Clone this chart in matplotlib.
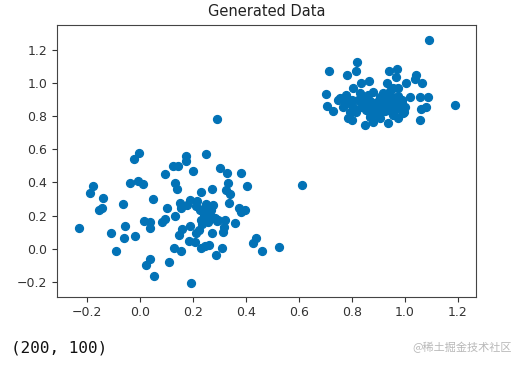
import matplotlib
matplotlib.use("Agg")
import matplotlib.pyplot as plt
import numpy as np

# lower-left cluster
x1 = [-0.231, -0.188, -0.177, -0.140, -0.155, -0.143, -0.111, -0.090, -0.064, -0.055,
      -0.061, -0.037, -0.021, -0.003, -0.008, 0.011, -0.018, 0.014, 0.039, 0.039,
      0.049, 0.024, 0.039, 0.053, 0.096, 0.102, 0.096, 0.083, 0.111, 0.125,
      0.145, 0.134, 0.139, 0.134, 0.127, 0.155, 0.151, 0.156, 0.149, 0.159,
      0.172, 0.173, 0.200, 0.179, 0.190, 0.188, 0.184, 0.206, 0.192, 0.216,
      0.230, 0.232, 0.248, 0.226, 0.232, 0.223, 0.213, 0.246, 0.260, 0.272,
      0.247, 0.264, 0.276, 0.266, 0.282, 0.295, 0.272, 0.286, 0.310, 0.290,
      0.304, 0.328, 0.334, 0.324, 0.339, 0.337, 0.323, 0.318, 0.314, 0.358,
      0.380, 0.375, 0.380, 0.397, 0.404, 0.427, 0.438, 0.462, 0.526, 0.612,
      0.255, 0.240, 0.262, 0.250, 0.270, 0.236, 0.258, 0.210, 0.290, 0.245]
y1 = [0.127, 0.338, 0.379, 0.304, 0.234, 0.244, 0.093, -0.014, 0.272, 0.135,
      0.066, 0.399, 0.542, 0.580, 0.411, 0.393, 0.075, 0.167, 0.163, 0.127,
      0.302, -0.099, -0.062, -0.165, 0.453, 0.248, 0.181, 0.163, -0.083, 0.499,
      0.501, 0.397, 0.358, 0.197, 0.002, -0.012, 0.274, 0.244, 0.083, 0.117,
      0.562, 0.528, 0.467, 0.264, 0.294, 0.137, 0.048, 0.038, -0.205, 0.290,
      0.344, 0.002, 0.572, 0.234, 0.173, 0.113, 0.093, 0.016, 0.020, 0.358,
      0.254, 0.244, 0.264, 0.203, 0.183, 0.173, 0.097, -0.040, 0.002, 0.783,
      0.485, 0.455, 0.395, 0.354, 0.330, 0.274, 0.173, 0.133, 0.099, 0.157,
      0.455, 0.244, 0.222, 0.234, 0.379, 0.032, 0.066, -0.014, 0.008, 0.385,
      0.225, 0.210, 0.190, 0.270, 0.235, 0.150, 0.160, 0.260, 0.165, 0.195]

# upper-right cluster
x2 = [1.091, 1.189, 0.716, 0.820, 0.815, 0.782, 0.702, 0.707, 0.730, 0.755,
      0.777, 0.773, 0.768, 0.785, 0.800, 0.806, 0.834, 0.831, 0.800, 0.806,
      0.818, 0.850, 0.854, 0.851, 0.866, 0.879, 0.869, 0.879, 0.894, 0.907,
      0.919, 0.907, 0.936, 0.932, 0.941, 0.970, 0.967, 0.957, 0.951, 0.944,
      0.963, 0.976, 0.989, 0.982, 1.007, 1.020, 1.001, 1.042, 1.039, 1.067,
      1.060, 1.089, 1.063, 1.082, 1.060, 0.999, 0.888, 0.749, 0.793, 0.907,
      0.976, 0.862, 0.932, 0.837, 0.875, 0.982, 0.994, 0.894, 0.788, 0.957,
      0.845, 0.860, 0.880, 0.900, 0.915, 0.930, 0.950, 0.965, 0.985, 0.870,
      0.890, 0.910, 0.940, 0.960, 0.825, 0.855, 0.925, 0.975, 0.995, 0.945,
      0.868, 0.898, 0.918, 0.948, 0.838, 0.882, 0.958, 0.990, 0.812, 0.928]
y2 = [1.261, 0.868, 1.073, 1.126, 1.073, 1.051, 0.936, 0.862, 0.832, 0.912,
      0.928, 0.888, 0.858, 0.787, 0.777, 0.969, 0.999, 0.938, 0.898, 0.858,
      0.828, 0.898, 0.838, 0.747, 1.013, 0.948, 0.797, 0.763, 0.888, 0.918,
      0.858, 0.787, 0.757, 1.003, 1.073, 1.085, 1.039, 0.969, 0.918, 0.858,
      0.838, 0.787, 0.898, 0.848, 0.999, 0.918, 0.858, 1.049, 1.025, 1.003,
      0.918, 0.918, 0.842, 0.858, 0.777, 0.828, 0.858, 0.898, 0.828, 0.818,
      0.969, 0.928, 0.908, 0.858, 0.838, 0.878, 0.818, 0.818, 0.878, 0.808,
      0.870, 0.900, 0.880, 0.850, 0.890, 0.870, 0.880, 0.860, 0.870, 0.820,
      0.840, 0.830, 0.840, 0.900, 0.900, 0.860, 0.830, 0.920, 0.850, 0.950,
      0.890, 0.870, 0.940, 0.830, 0.910, 0.810, 0.890, 0.880, 0.830, 0.860]

x = np.array(x1 + x2)
y = np.array(y1 + y2)

fig = plt.figure(figsize=(5.22, 3.68), dpi=100)
ax = fig.add_axes([0.109, 0.194, 0.803, 0.739])
ax.scatter(x, y, s=32, c="#0272b6")
ax.set_xlim(-0.314, 1.270)
ax.set_ylim(-0.290, 1.353)
ax.set_xticks([-0.2, 0.0, 0.2, 0.4, 0.6, 0.8, 1.0, 1.2])
ax.set_yticks([-0.2, 0.0, 0.2, 0.4, 0.6, 0.8, 1.0, 1.2])
ax.tick_params(labelsize=9, colors="#333333")
for s in ax.spines.values():
    s.set_color("#444444")
ax.set_title("Generated Data", fontsize=10.5, color="#222222")

fig.text(0.022, 0.043, "(200, 100)", family="DejaVu Sans Mono", fontsize=11.5, color="#111111")
fig.text(0.98, 0.045, "@稀土掘金技术社区", family=["Noto Sans CJK SC", "DejaVu Sans"],
         fontsize=8, color="#b8b8b8", ha="right")

fig.savefig("out.png", dpi=100)
